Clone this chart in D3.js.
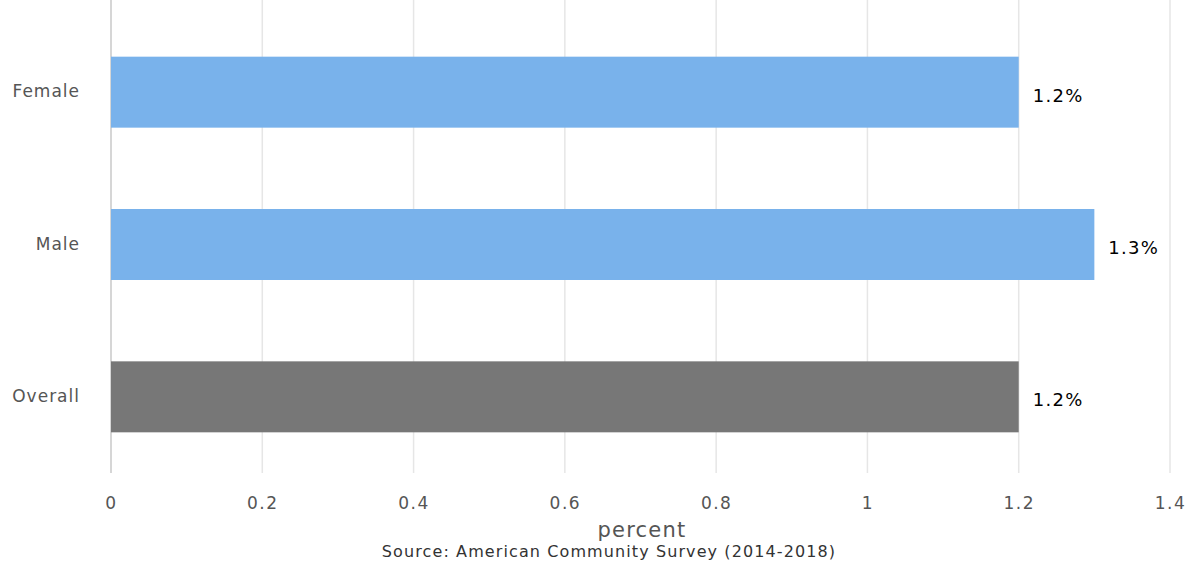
<!DOCTYPE html>
<html><head><meta charset="utf-8">
<script src="https://cdn.jsdelivr.net/npm/d3@7"></script>
<style>
body{margin:0;background:#fff;}
text{font-family:"DejaVu Sans",sans-serif;}
</style></head>
<body><svg id="c" width="1197" height="565"></svg>
<script>
const categories = ["Female", "Male", "Overall"];
const values = [1.2, 1.3, 1.2];
const valueLabels = ["1.2%", "1.3%", "1.2%"];
const barColors = ["#79b2eb", "#79b2eb", "#777777"];
const tickValues = [0, 0.2, 0.4, 0.6, 0.8, 1, 1.2, 1.4];
const axisTitle = "percent";
const sourceText = "Source: American Community Survey (2014-2018)";

const svg = d3.select("#c");
const x = d3.scaleLinear().domain([0, 1.4]).range([111, 1170]);
const y = d3.scaleBand().domain(categories).range([16, 473]).paddingInner(0.534).paddingOuter(0.267);

// gridlines
svg.append("g").selectAll("line").data(tickValues).join("line")
  .attr("x1", d => x(d)).attr("x2", d => x(d))
  .attr("y1", 0).attr("y2", 473)
  .attr("stroke", d => d === 0 ? "#c8c8c8" : "#e6e6e6").attr("stroke-width", 1.5);

// bars
svg.append("g").selectAll("rect").data(categories).join("rect")
  .attr("x", x(0)).attr("y", d => y(d))
  .attr("width", (d, i) => x(values[i]) - x(0))
  .attr("height", y.bandwidth())
  .attr("fill", (d, i) => barColors[i]);

// value labels
svg.append("g").selectAll("text").data(categories).join("text")
  .attr("x", (d, i) => x(values[i]) + 14)
  .attr("y", d => y(d) + y.bandwidth() / 2 + 3)
  .attr("dy", "0.36em")
  .attr("font-size", 18).attr("fill", "#000").attr("letter-spacing", "1.3px")
  .text((d, i) => valueLabels[i]);

// category labels
svg.append("g").selectAll("text").data(categories).join("text")
  .attr("x", 80).attr("y", d => y(d) + y.bandwidth() / 2 - 1)
  .attr("dy", "0.36em").attr("text-anchor", "end")
  .attr("font-size", 17).attr("fill", "#555").attr("letter-spacing", "1px")
  .text(d => d);

// x axis tick labels
const xAxis = d3.axisBottom(x).tickValues(tickValues).tickSize(0).tickPadding(0)
  .tickFormat(d => d3.format("~g")(d));
const gx = svg.append("g").attr("transform", "translate(0,473)").call(xAxis);
gx.select(".domain").remove();
gx.selectAll("text").attr("y", 30).attr("dy", "0.36em")
  .attr("font-size", 17).attr("fill", "#555").attr("letter-spacing", "1.5px")
  .attr("font-family", "DejaVu Sans, sans-serif");

svg.append("text").attr("x", 642).attr("y", 529).attr("dy", "0.36em")
  .attr("text-anchor", "middle").attr("font-size", 21).attr("fill", "#555")
  .attr("letter-spacing", "1.2px").text(axisTitle);

svg.append("text").attr("x", 609).attr("y", 551).attr("dy", "0.36em")
  .attr("text-anchor", "middle").attr("font-size", 16).attr("fill", "#333")
  .attr("letter-spacing", "1.1px").text(sourceText);
</script></body></html>
